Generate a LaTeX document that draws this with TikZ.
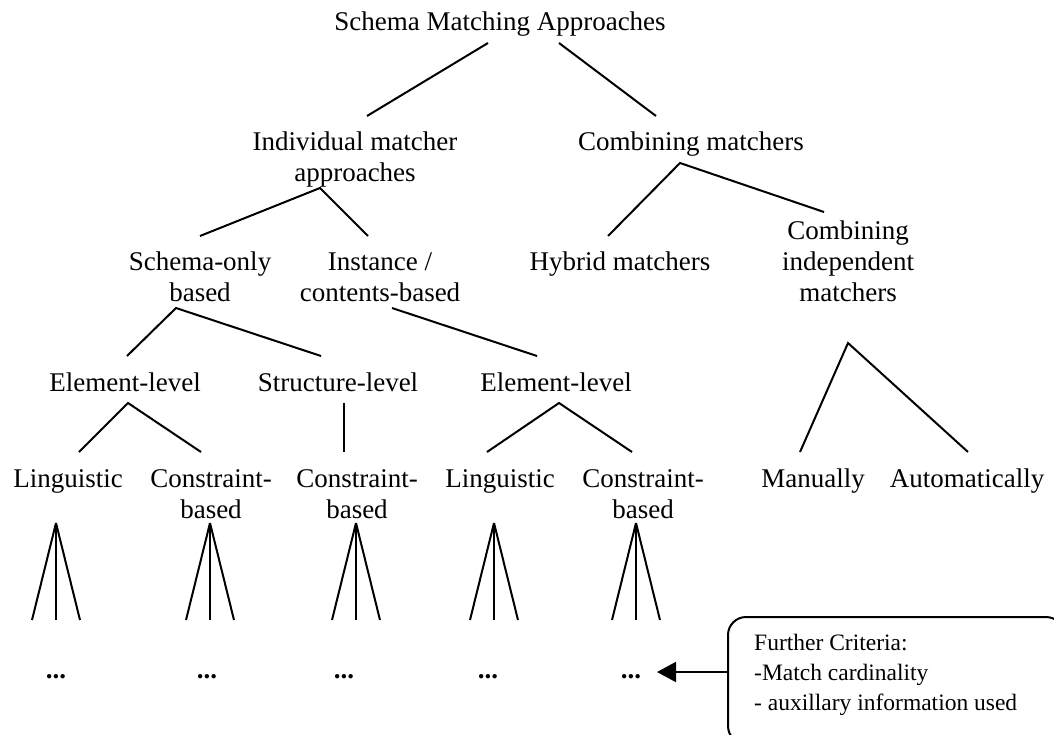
\documentclass[tikz,border=0pt]{standalone}
\usepackage{fontspec}
\setmainfont{Liberation Serif}
\usetikzlibrary{arrows.meta}
% centred / left-aligned multi-line labels; the box baseline is the first line's baseline
\newcommand\cstack[1]{\vtop{\halign{\hfil##\hfil\cr#1\crcr}}}
\newcommand\lstack[1]{\vtop{\halign{##\hfil\cr#1\crcr}}}
\begin{document}
\begin{tikzpicture}[x=1pt,y=-1pt,
  lbl/.style={inner sep=0pt, anchor=base, font=\fontsize{27}{31}\selectfont},
  dotlbl/.style={inner sep=0pt, anchor=base, font=\fontsize{27}{31}\selectfont\bfseries},
  notetxt/.style={inner sep=0pt, anchor=base west, font=\fontsize{23.5}{30}\selectfont},
  link/.style={line width=2pt},
  notebox/.style={draw, line width=2pt, rounded corners=18pt, inner sep=0pt,
    minimum width=336pt, minimum height=127pt, anchor=north west}]
\fill[white] (0,0) rectangle (1054,734);
\useasboundingbox (0,0) rectangle (1054,734);

% ---- labels ----
\node[lbl] (root) at (500,30) {Schema Matching Approaches};
\node[lbl] (ind) at (355,150) {\cstack{Individual matcher\cr approaches}};
\node[lbl] (comb) at (691,150) {Combining matchers};
\node[lbl] (schema) at (200,270) {\cstack{Schema-only\cr based}};
\node[lbl] (inst) at (380,270) {\cstack{Instance /\cr contents-based}};
\node[lbl] (hyb) at (620,270) {Hybrid matchers};
\node[lbl] (combind) at (848,239) {\cstack{Combining\cr independent\cr matchers}};
\node[lbl] (el1) at (125,391) {Element-level};
\node[lbl] (sl) at (338,391) {Structure-level};
\node[lbl] (el2) at (556,391) {Element-level};
\node[lbl] (ling1) at (68,487) {Linguistic};
\node[lbl] (cons1) at (211,487) {\cstack{Constraint-\cr based}};
\node[lbl] (cons2) at (357,487) {\cstack{Constraint-\cr based}};
\node[lbl] (ling2) at (500,487) {Linguistic};
\node[lbl] (cons3) at (643,487) {\cstack{Constraint-\cr based}};
\node[lbl] (man) at (813,487) {Manually};
\node[lbl] (aut) at (967,487) {Automatically};

\node[dotlbl] (d1) at (56,678) {...};
\node[dotlbl] (d2) at (207,678) {...};
\node[dotlbl] (d3) at (344,678) {...};
\node[dotlbl] (d4) at (488,678) {...};
\node[dotlbl] (d5) at (631,678) {...};

% ---- tree branches ----
\coordinate (rootL) at (488,43);   \coordinate (rootR) at (559,43);
\coordinate (indTop) at (367,116); \coordinate (combTop) at (656,116);
\draw[link] (rootL) -- (indTop);
\draw[link] (rootR) -- (combTop);

\coordinate (indApex) at (320,188);
\coordinate (schemaTop) at (200,236); \coordinate (instTop) at (368,236);
\draw[link] (schemaTop) -- (indApex) -- (instTop);

\coordinate (combApex) at (680,163);
\coordinate (hybTop) at (608,236); \coordinate (combindTop) at (824,212);
\draw[link] (hybTop) -- (combApex) -- (combindTop);

\coordinate (schemaApex) at (176,308);
\coordinate (el1Top) at (127,356); \coordinate (slTop) at (321,356);
\draw[link] (el1Top) -- (schemaApex) -- (slTop);

\coordinate (instFoot) at (392,308); \coordinate (el2Top) at (537,356);
\draw[link] (instFoot) -- (el2Top);

\coordinate (combindApex) at (848,343);
\coordinate (manTop) at (800,452); \coordinate (autTop) at (968,452);
\draw[link] (manTop) -- (combindApex) -- (autTop);

\coordinate (el1Apex) at (128,403);
\coordinate (ling1Top) at (79,452); \coordinate (cons1Top) at (201,452);
\draw[link] (ling1Top) -- (el1Apex) -- (cons1Top);

\coordinate (slFoot) at (344,403); \coordinate (cons2Top) at (344,452);
\draw[link] (slFoot) -- (cons2Top);

\coordinate (el2Apex) at (559,403);
\coordinate (ling2Top) at (487,452); \coordinate (cons3Top) at (632,452);
\draw[link] (ling2Top) -- (el2Apex) -- (cons3Top);

% ---- three-way fans above the ellipses ----
\foreach \k/\x in {1/56,2/210,3/356,4/494,5/636}{
  \coordinate (fan\k) at (\x,523);
  \coordinate (fan\k-l) at (\x-24,620);
  \coordinate (fan\k-m) at (\x,620);
  \coordinate (fan\k-r) at (\x+24,620);
  \draw[link] (fan\k) -- (fan\k-l);
  \draw[link] (fan\k) -- (fan\k-m);
  \draw[link] (fan\k) -- (fan\k-r);
}

% ---- note box with arrow ----
\begin{scope}
  \clip (0,0) rectangle (1054,734);
  \node[notebox] (note) at (727,616) {};
\end{scope}
\node[notetxt] (notetext) at (754,650)
  {\lstack{Further Criteria:\cr -Match cardinality\cr - auxillary information used}};
\coordinate (noteIn) at (727,672);
\coordinate (tip) at (657,672);
\draw[link, -{Triangle[length=19pt,width=20pt]}] (noteIn) -- (tip);
\end{tikzpicture}
\end{document}
